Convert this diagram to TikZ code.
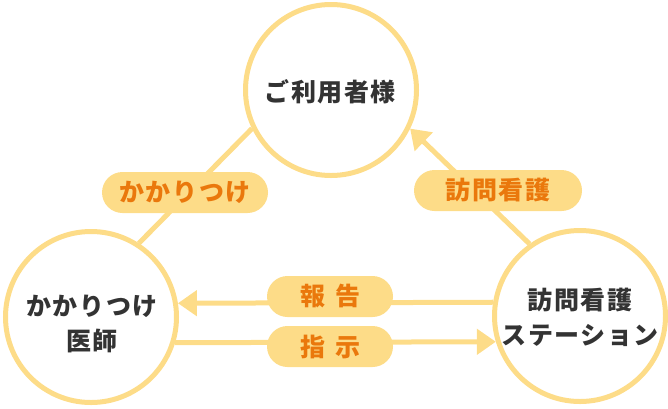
\documentclass[tikz,border=0pt]{standalone}
\usepackage{fontspec}
\setmainfont{Noto Sans CJK JP}
\newfontfamily\jp{Noto Sans CJK JP}[LetterSpace=6]
\usetikzlibrary{arrows.meta,backgrounds}
\definecolor{ring}{HTML}{FDDC88}
\definecolor{pillfill}{HTML}{FDDC88}
\definecolor{pilltext}{HTML}{EA780C}
\definecolor{ink}{HTML}{333333}
\tikzset{
  party/.style={circle,draw=ring,line width=5pt,fill=white,minimum size=171pt,inner sep=0pt},
  partytext/.style={text=ink,font=\jp\bfseries\fontsize{25pt}{35pt}\selectfont,align=center,inner sep=0pt},
  pill/.style={fill=pillfill,rounded corners=20.5pt,minimum height=41pt,inner sep=0pt,
    text=pilltext,font=\jp\bfseries\fontsize{25pt}{28pt}\selectfont},
  link/.style={draw=ring,line width=5pt},
  tip/.style={-{Triangle[length=19pt,width=25pt]}}
}
\begin{document}
\begin{tikzpicture}[x=1pt,y=-1pt]
\useasboundingbox (0,0) rectangle (668,408);
% circles
\node[party] (T) at (331,90) {};
\node[party] (L) at (91,317) {};
\node[party] (R) at (580,316) {};
\node[partytext] (Tt) at (330,92) {ご利用者様};
\node[partytext] (Lt) at (92,324) {かかりつけ\\医師};
\node[partytext] (Rt) at (580,317) {訪問看護\\ステーション};
% connectors
\begin{scope}[on background layer]
  \draw[link] (L.57) -- (T.206.6);
  \draw[link,tip] (R.125.4) -- (T.334);
  \draw[link,tip] (R.171.5) -- (L.9);
  \draw[link,tip] (L.-17) -- (R.197.8);
\end{scope}
% labels
\node[pill,minimum width=166pt] (kak) at (185,192.5) {かかりつけ};
\node[pill,minimum width=168pt] (hou) at (498,190.5) {訪問看護};
\node[pill,minimum width=126pt] (rep) at (330,296.5) {報\hspace{10pt}告};
\node[pill,minimum width=126pt] (ins) at (330,346.5) {指\hspace{10pt}示};
\end{tikzpicture}
\end{document}
